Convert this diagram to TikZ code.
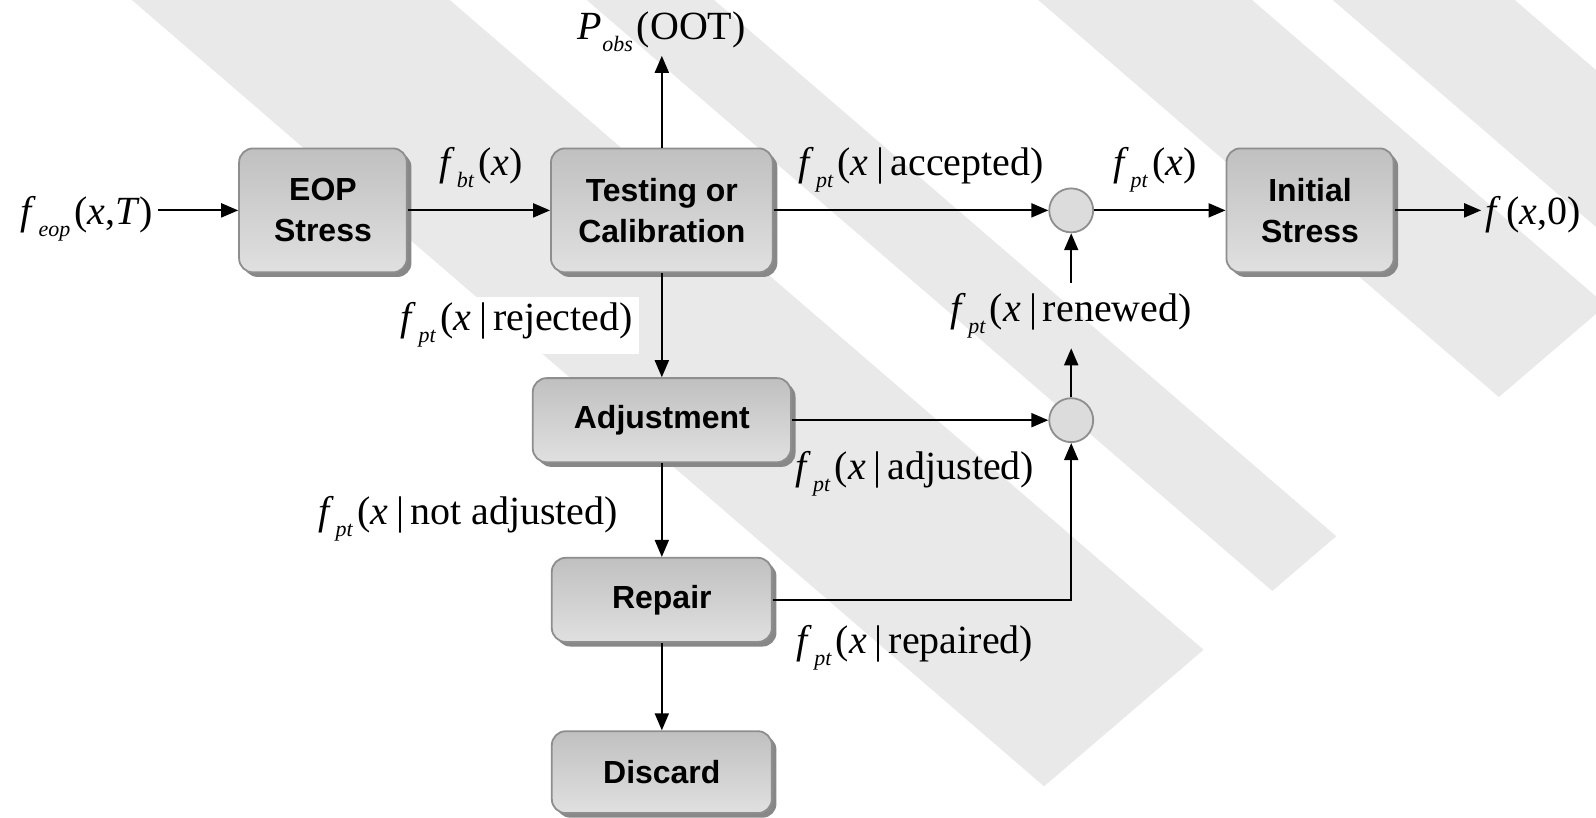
\documentclass[tikz,border=0pt]{standalone}
\usepackage{fontspec}
\setmainfont{Liberation Serif}
\setsansfont{Liberation Sans}
\usetikzlibrary{positioning, arrows.meta, shadows}

\definecolor{stripe}{HTML}{E9E9E9}
\definecolor{boxline}{HTML}{8E8E8E}
\definecolor{boxtop}{HTML}{C0C0C0}
\definecolor{boxbot}{HTML}{E0E0E0}
\definecolor{boxshade}{HTML}{888888}
\definecolor{sumfill}{HTML}{DCDCDC}

\newcommand{\boxfont}{\fontsize{16}{20.5}\selectfont\sffamily\bfseries}
\newcommand{\lblfont}{\fontsize{20}{24}\selectfont}
\newcommand{\ff}[1]{\textit{f}\kern0.05em\raisebox{-0.3em}{\fontsize{11}{11}\selectfont\textit{#1}}\kern0.1em}
\newcommand{\given}{\kern0.2em|\kern0.15em}

\begin{document}
\begin{tikzpicture}[
      box/.style={draw=boxline, line width=0.9pt, rounded corners=7pt,
                  top color=boxtop, bottom color=boxbot,
                  drop shadow={shadow xshift=2.3pt, shadow yshift=-2.3pt,
                               fill=boxshade, opacity=1},
                  align=center, font=\boxfont, inner sep=0pt},
      junction/.style={circle, draw=boxline, line width=0.9pt, fill=sumfill,
                  minimum size=22pt, inner sep=0pt},
      lbl/.style={font=\lblfont, inner sep=2pt},
      arr/.style={-{Triangle[length=8.5pt, width=7pt]}, line width=1pt}]
    \useasboundingbox (0,0) rectangle (28.07,-14.37);
    \fill[white] (0,0) rectangle (28.07,-14.37);
    % background stripes
    \begin{scope}
      \clip (0,0) -- (28.07,0) -- (28.07,-5.52) -- (17.73,-14.37) -- (0,-14.37) -- cycle;
      \foreach \a/\b in {2.32/7.91, 10.32/12.56, 18.26/22.02, 23.44/26.64}
        \fill[stripe] (\a,0) -- (\b,0) -- (\b+16.67,-14.37) -- (\a+16.67,-14.37) -- cycle;
    \end{scope}

    \node[box, minimum width=2.95cm, minimum height=2.18cm] (eop)  at (5.68,-3.70)  {EOP\\Stress};
    \node[box, minimum width=3.90cm, minimum height=2.18cm] (test) at (11.64,-3.70) {Testing or\\Calibration};
    \node[box, minimum width=2.94cm, minimum height=2.18cm] (init) at (23.04,-3.70) {Initial\\Stress};
    \node[box, minimum width=4.54cm, minimum height=1.48cm] (adj)  at (11.64,-7.39) {Adjustment};
    \node[box, minimum width=3.87cm, minimum height=1.48cm] (rep)  at (11.64,-10.55) {Repair};
    \node[box, minimum width=3.87cm, minimum height=1.44cm] (disc) at (11.64,-13.58) {Discard};
    \node[junction] (acc) at (18.84,-3.70) {};
    \node[junction] (ren) at (18.84,-7.39) {};

    \node[lbl, anchor=base] (feop) at (1.53,-3.94) {\ff{eop}(\textit{x},\textit{T})};
    \node[lbl, anchor=base] (fbt)  at (8.46,-3.08) {\ff{bt}(\textit{x})};
    \node[lbl, anchor=base] (facc) at (16.20,-3.08) {\ff{pt}(\textit{x}\given accepted)};
    \node[lbl, anchor=base] (fpt)  at (20.31,-3.08) {\ff{pt}(\textit{x})};
    \node[lbl, anchor=base west] (fout) at (26.05,-3.94) {\textit{f}\kern0.12em(\textit{x},0)};
    \node[lbl, anchor=base] (pobs) at (11.64,-0.69)
         {\textit{P}\raisebox{-0.3em}{\fontsize{11}{11}\selectfont\textit{obs}}\kern0.1em(OOT)};
    \node[lbl, anchor=base, fill=white, inner sep=3pt] (frej) at (9.09,-5.82) {\ff{pt}(\textit{x}\given rejected)};
    \node[lbl, anchor=base, inner ysep=5pt] (fren) at (18.84,-5.65) {\ff{pt}(\textit{x}\given renewed)};
    \node[lbl, anchor=base] (fadj) at (16.09,-8.44) {\ff{pt}(\textit{x}\given adjusted)};
    \node[lbl, anchor=base] (fnot) at (8.23,-9.22) {\ff{pt}(\textit{x}\given not adjusted)};
    \node[lbl, anchor=base] (frep) at (16.09,-11.50) {\ff{pt}(\textit{x}\given repaired)};

    \draw[arr] (feop.east |- eop.west) -- (eop.west);
    \draw[arr] (eop) -- (test);
    \draw[arr] (test) -- (pobs);
    \draw[arr] (test) -- (acc);
    \draw[arr] (acc) -- (init);
    \draw[arr] (init.east) -- (fout.west |- init.east);
    \draw[arr] (test) -- (adj);
    \draw[arr] (adj) -- (rep);
    \draw[arr] (rep) -- (disc);
    \draw[arr] (adj) -- (ren);
    \draw[arr] (rep) -| (ren);
    \draw[arr] (ren) -- (fren);
    \draw[arr] (fren) -- (acc);
  \end{tikzpicture}
\end{document}
